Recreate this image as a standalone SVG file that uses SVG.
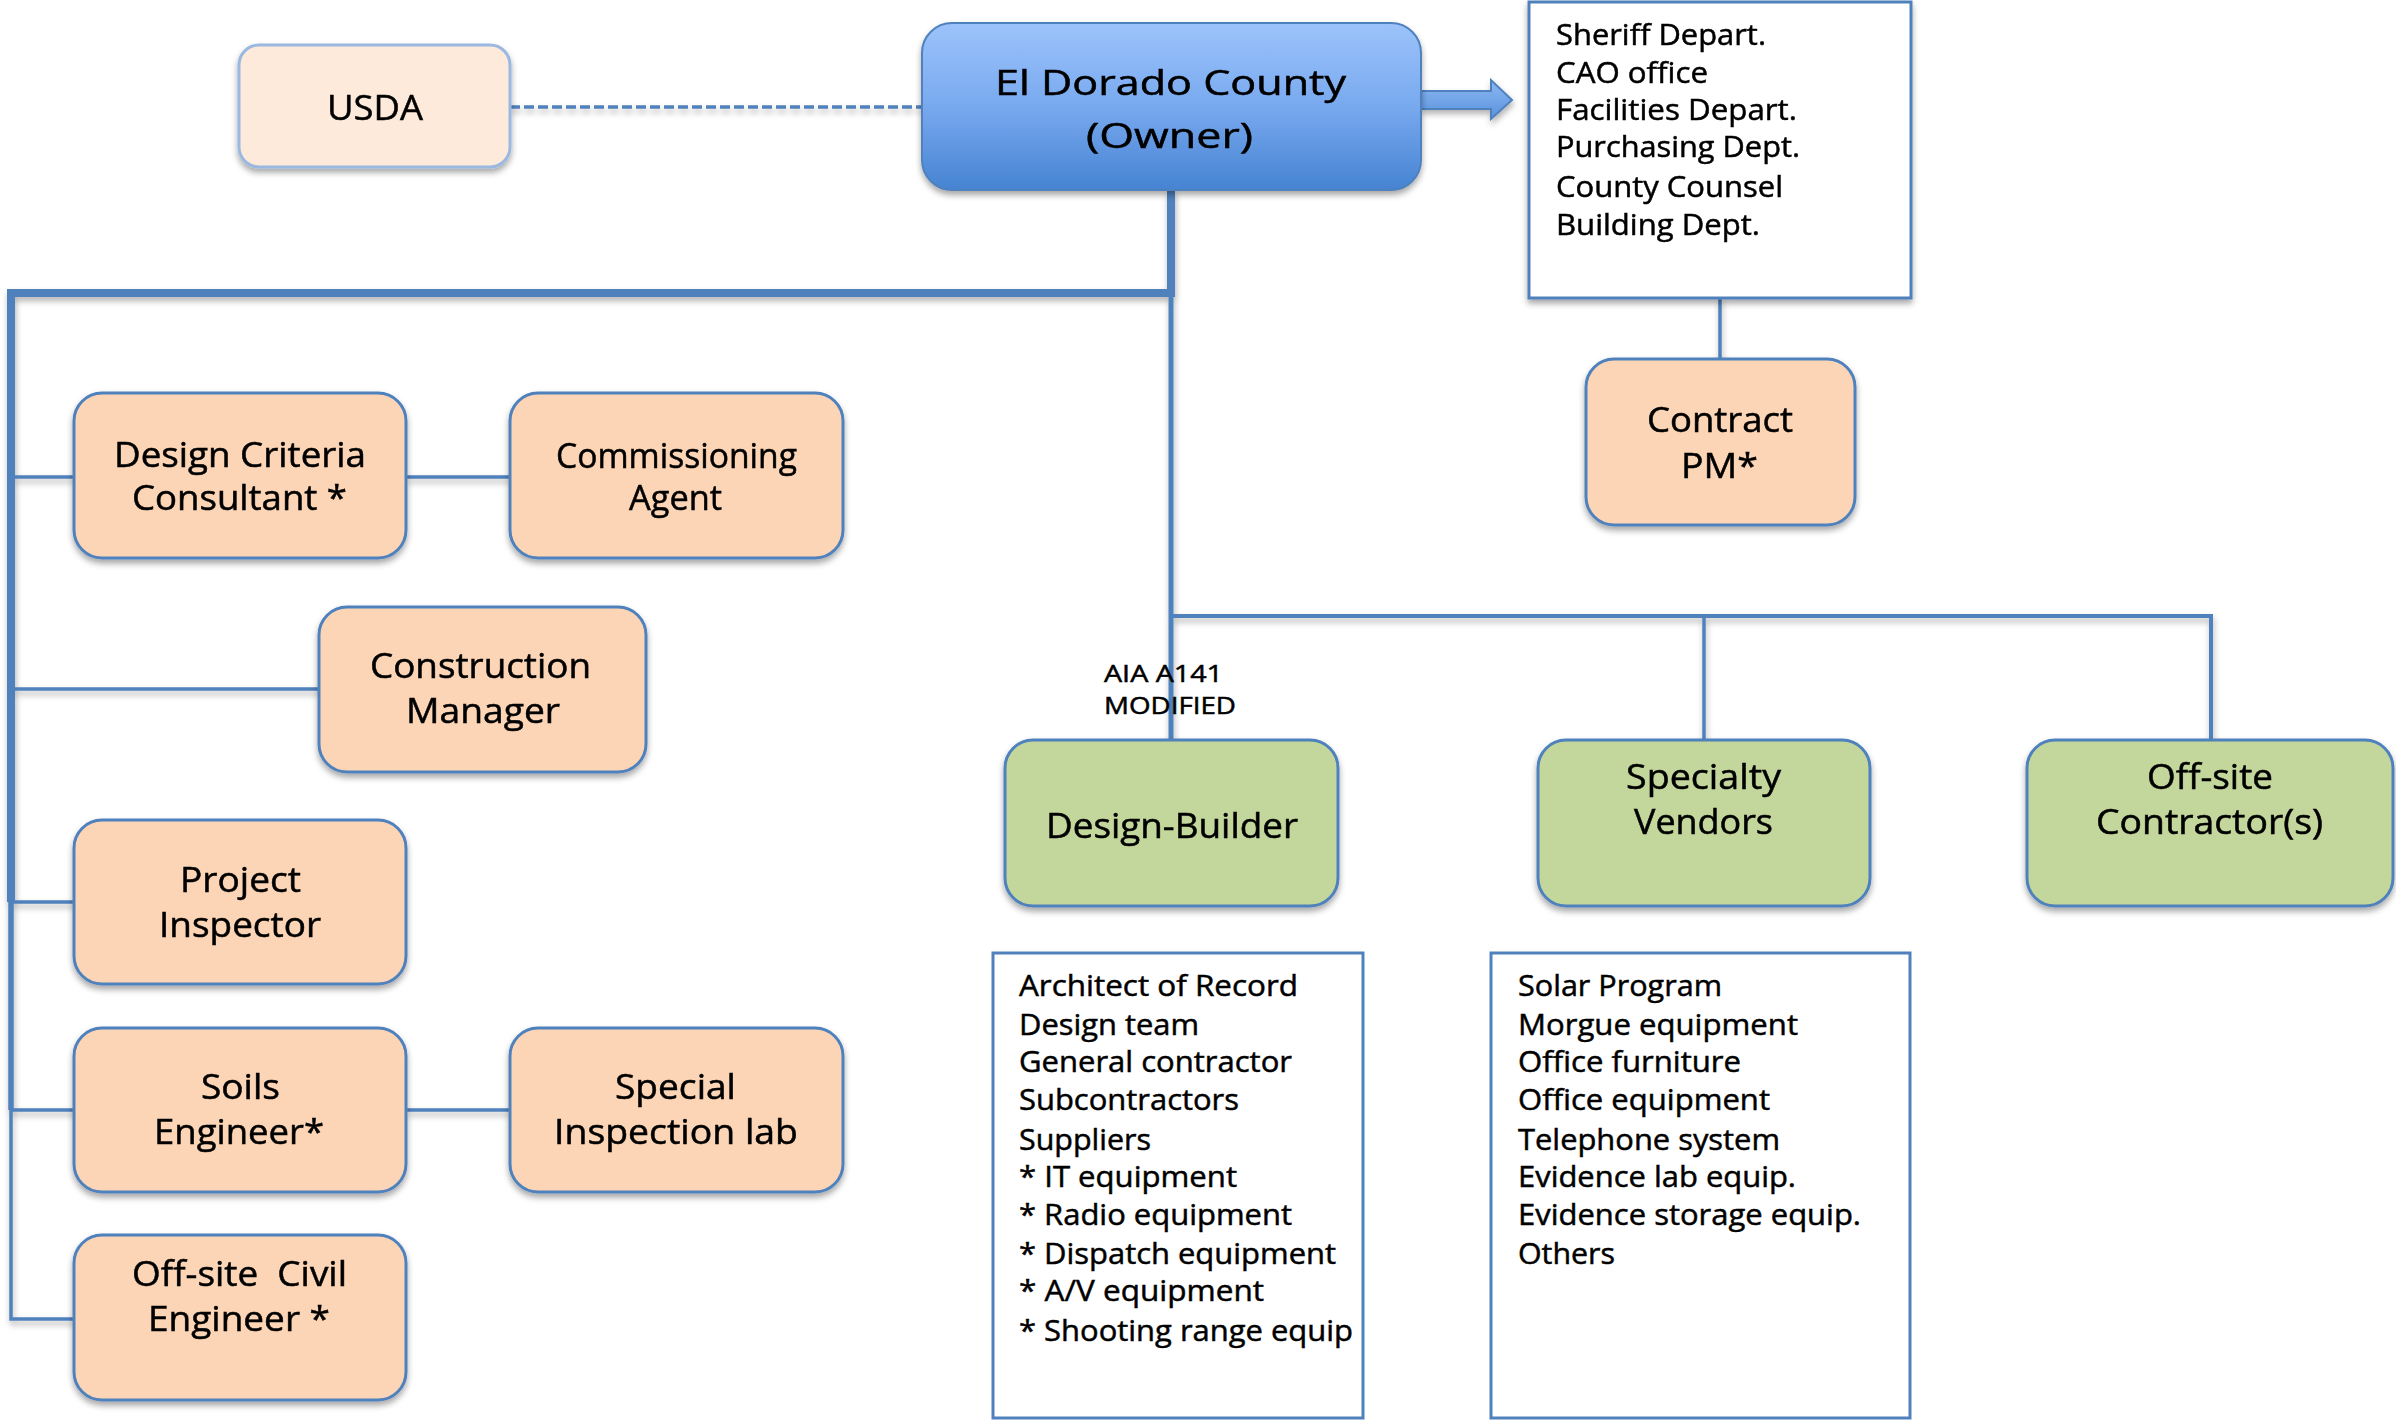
<svg xmlns="http://www.w3.org/2000/svg" width="2396" height="1420" viewBox="0 0 2396 1420">
<defs>
  <linearGradient id="gBlue" x1="0" y1="0" x2="0" y2="1">
    <stop offset="0" stop-color="#9cc3fa"/>
    <stop offset="0.5" stop-color="#78a9ef"/>
    <stop offset="1" stop-color="#4683d2"/>
  </linearGradient>
  <linearGradient id="gArrow" x1="0" y1="0" x2="0" y2="1">
    <stop offset="0" stop-color="#8cb8f4"/>
    <stop offset="1" stop-color="#5a92dc"/>
  </linearGradient>
  <filter id="sh" x="-10%" y="-10%" width="120%" height="130%">
    <feDropShadow dx="0" dy="4" stdDeviation="3" flood-color="#000" flood-opacity="0.35"/>
  </filter>
  <filter id="lsh" x="-5%" y="-5%" width="110%" height="110%">
    <feDropShadow dx="1" dy="4" stdDeviation="3" flood-color="#000" flood-opacity="0.3"/>
  </filter>
</defs>
<style>
  .t { font-family: "Open Sans", "Liberation Sans", sans-serif; fill: #000; stroke: #000; stroke-width: 0.5px; }
  .node { font-size: 34px; text-anchor: middle; }
  .list { font-size: 30px; }
  .orange { fill: #fbd5b5; stroke: #4f81bd; stroke-width: 3; }
  .green { fill: #c3d69b; stroke: #4f81bd; stroke-width: 3; }
  .listbox { fill: #ffffff; stroke: #4f81bd; stroke-width: 3; }
  .ln { fill: none; stroke: #4f81bd; stroke-linecap: butt; stroke-linejoin: miter; }
</style>
<rect width="2396" height="1420" fill="#ffffff"/>

<g id="connectors" filter="url(#lsh)">
  <line class="ln" x1="510" y1="107" x2="922" y2="107" stroke-width="3.5" stroke-dasharray="10 4" stroke="#5f8bc6"/>
  <path class="ln" d="M1171 190 V293 H11 V902" stroke-width="8"/>
  <path class="ln" d="M11 900 V1110" stroke-width="5.5"/>
  <path class="ln" d="M11 1108 V1319 H74" stroke-width="3.5"/>
  <line class="ln" x1="11" y1="477" x2="74" y2="477" stroke-width="3.5"/>
  <line class="ln" x1="406" y1="477" x2="510" y2="477" stroke-width="3.5"/>
  <line class="ln" x1="11" y1="689" x2="319" y2="689" stroke-width="3.5"/>
  <line class="ln" x1="11" y1="902" x2="74" y2="902" stroke-width="3.5"/>
  <line class="ln" x1="11" y1="1110" x2="74" y2="1110" stroke-width="3.5"/>
  <line class="ln" x1="406" y1="1110" x2="510" y2="1110" stroke-width="3.5"/>
  <path class="ln" d="M1171 293 V740" stroke-width="5"/>
  <path class="ln" d="M1171 616 H2211 V740" stroke-width="4"/>
  <line class="ln" x1="1704" y1="616" x2="1704" y2="740" stroke-width="3.5"/>
  <line class="ln" x1="1720" y1="298" x2="1720" y2="359" stroke-width="3.5"/>
  <path d="M1421 91 H1491 V80 L1512 100 L1491 119 V109 H1421 Z" fill="url(#gArrow)" stroke="#4f81bd" stroke-width="2"/>
</g>

<g id="usda" filter="url(#sh)">
  <rect x="239" y="45" width="271" height="122" rx="20" fill="#fdeadb" stroke="#9ab8e0" stroke-width="3"/>
  <text class="t node" x="375" y="120" font-size="35" textLength="96" lengthAdjust="spacingAndGlyphs">USDA</text>
</g>

<g id="owner" filter="url(#sh)">
  <rect x="922" y="23" width="499" height="167" rx="30" fill="url(#gBlue)" stroke="#4f81bd" stroke-width="2"/>
  <text class="t node" x="1170.5" y="95" font-size="39" textLength="351" lengthAdjust="spacingAndGlyphs">El Dorado County</text>
  <text class="t node" x="1169.5" y="148" font-size="39" textLength="167" lengthAdjust="spacingAndGlyphs">(Owner)</text>
</g>

<g id="county-depts" filter="url(#sh)">
  <rect class="listbox" x="1529" y="2" width="382" height="296"/>
  <text class="t list" font-size="29" x="1556" y="45" textLength="210" lengthAdjust="spacingAndGlyphs">Sheriff Depart.</text>
  <text class="t list" font-size="29" x="1556" y="83" textLength="152" lengthAdjust="spacingAndGlyphs">CAO office</text>
  <text class="t list" font-size="29" x="1556" y="120" textLength="241" lengthAdjust="spacingAndGlyphs">Facilities Depart.</text>
  <text class="t list" font-size="29" x="1556" y="157" textLength="244" lengthAdjust="spacingAndGlyphs">Purchasing Dept.</text>
  <text class="t list" font-size="29" x="1556" y="197" textLength="227" lengthAdjust="spacingAndGlyphs">County Counsel</text>
  <text class="t list" font-size="29" x="1556" y="235" textLength="204" lengthAdjust="spacingAndGlyphs">Building Dept.</text>
</g>

<g id="contract-pm" filter="url(#sh)">
  <rect class="orange" x="1586" y="359" width="269" height="166" rx="28"/>
  <text class="t node" x="1720" y="432" textLength="146" lengthAdjust="spacingAndGlyphs">Contract</text>
  <text class="t node" x="1719.5" y="478" textLength="77" lengthAdjust="spacingAndGlyphs">PM*</text>
</g>

<g id="design-criteria" filter="url(#sh)">
  <rect class="orange" x="74" y="393" width="332" height="165" rx="28"/>
  <text class="t node" x="240" y="467" textLength="252" lengthAdjust="spacingAndGlyphs">Design Criteria</text>
  <text class="t node" x="239.5" y="510" textLength="215" lengthAdjust="spacingAndGlyphs">Consultant *</text>
</g>

<g id="commissioning" filter="url(#sh)">
  <rect class="orange" x="510" y="393" width="333" height="165" rx="28"/>
  <text class="t node" x="676.5" y="468" textLength="241" lengthAdjust="spacingAndGlyphs">Commissioning</text>
  <text class="t node" x="675.5" y="510" textLength="93" lengthAdjust="spacingAndGlyphs">Agent</text>
</g>

<g id="construction-manager" filter="url(#sh)">
  <rect class="orange" x="319" y="607" width="327" height="165" rx="28"/>
  <text class="t node" x="480.5" y="678" textLength="221" lengthAdjust="spacingAndGlyphs">Construction</text>
  <text class="t node" x="483" y="723" textLength="154" lengthAdjust="spacingAndGlyphs">Manager</text>
</g>

<g id="project-inspector" filter="url(#sh)">
  <rect class="orange" x="74" y="820" width="332" height="164" rx="28"/>
  <text class="t node" x="240.5" y="892" textLength="121" lengthAdjust="spacingAndGlyphs">Project</text>
  <text class="t node" x="240" y="937" textLength="162" lengthAdjust="spacingAndGlyphs">Inspector</text>
</g>

<g id="soils-engineer" filter="url(#sh)">
  <rect class="orange" x="74" y="1028" width="332" height="164" rx="28"/>
  <text class="t node" x="240.5" y="1099" textLength="79" lengthAdjust="spacingAndGlyphs">Soils</text>
  <text class="t node" x="239" y="1144" textLength="170" lengthAdjust="spacingAndGlyphs">Engineer*</text>
</g>

<g id="special-inspection" filter="url(#sh)">
  <rect class="orange" x="510" y="1028" width="333" height="164" rx="28"/>
  <text class="t node" x="675.5" y="1099" textLength="121" lengthAdjust="spacingAndGlyphs">Special</text>
  <text class="t node" x="676" y="1144" textLength="244" lengthAdjust="spacingAndGlyphs">Inspection lab</text>
</g>

<g id="offsite-civil" filter="url(#sh)">
  <rect class="orange" x="74" y="1235" width="332" height="165" rx="28"/>
  <text class="t node" x="239.5" y="1286" textLength="215" lengthAdjust="spacingAndGlyphs" xml:space="preserve">Off-site  Civil</text>
  <text class="t node" x="239" y="1331" textLength="182" lengthAdjust="spacingAndGlyphs">Engineer *</text>
</g>

<g id="aia-label">
  <text class="t" font-size="24" x="1104" y="682" textLength="119" lengthAdjust="spacingAndGlyphs">AIA A141</text>
  <text class="t" font-size="24" x="1104" y="714" textLength="132" lengthAdjust="spacingAndGlyphs">MODIFIED</text>
</g>

<g id="design-builder" filter="url(#sh)">
  <rect class="green" x="1005" y="740" width="333" height="166" rx="28"/>
  <text class="t node" x="1172" y="838" textLength="252" lengthAdjust="spacingAndGlyphs">Design-Builder</text>
</g>

<g id="specialty-vendors" filter="url(#sh)">
  <rect class="green" x="1538" y="740" width="332" height="166" rx="28"/>
  <text class="t node" x="1703.5" y="789" textLength="155" lengthAdjust="spacingAndGlyphs">Specialty</text>
  <text class="t node" x="1703.5" y="834" textLength="139" lengthAdjust="spacingAndGlyphs">Vendors</text>
</g>

<g id="offsite-contractors" filter="url(#sh)">
  <rect class="green" x="2027" y="740" width="366" height="166" rx="28"/>
  <text class="t node" x="2210" y="789" textLength="126" lengthAdjust="spacingAndGlyphs">Off-site</text>
  <text class="t node" x="2209.5" y="834" textLength="227" lengthAdjust="spacingAndGlyphs">Contractor(s)</text>
</g>

<g id="design-builder-list">
  <rect class="listbox" x="993" y="953" width="370" height="465"/>
  <text class="t list" x="1019" y="996" textLength="279" lengthAdjust="spacingAndGlyphs">Architect of Record</text>
  <text class="t list" x="1019" y="1035" textLength="180" lengthAdjust="spacingAndGlyphs">Design team</text>
  <text class="t list" x="1019" y="1072" textLength="273" lengthAdjust="spacingAndGlyphs">General contractor</text>
  <text class="t list" x="1019" y="1110" textLength="220" lengthAdjust="spacingAndGlyphs">Subcontractors</text>
  <text class="t list" x="1019" y="1150" textLength="132" lengthAdjust="spacingAndGlyphs">Suppliers</text>
  <text class="t list" x="1019" y="1187" textLength="218" lengthAdjust="spacingAndGlyphs">* IT equipment</text>
  <text class="t list" x="1019" y="1225" textLength="273" lengthAdjust="spacingAndGlyphs">* Radio equipment</text>
  <text class="t list" x="1019" y="1264" textLength="317" lengthAdjust="spacingAndGlyphs">* Dispatch equipment</text>
  <text class="t list" x="1019" y="1301" textLength="245" lengthAdjust="spacingAndGlyphs">* A/V equipment</text>
  <text class="t list" x="1019" y="1341" textLength="334" lengthAdjust="spacingAndGlyphs">* Shooting range equip</text>
</g>

<g id="vendor-list">
  <rect class="listbox" x="1491" y="953" width="419" height="465"/>
  <text class="t list" x="1518" y="996" textLength="204" lengthAdjust="spacingAndGlyphs">Solar Program</text>
  <text class="t list" x="1518" y="1035" textLength="280" lengthAdjust="spacingAndGlyphs">Morgue equipment</text>
  <text class="t list" x="1518" y="1072" textLength="223" lengthAdjust="spacingAndGlyphs">Office furniture</text>
  <text class="t list" x="1518" y="1110" textLength="252" lengthAdjust="spacingAndGlyphs">Office equipment</text>
  <text class="t list" x="1518" y="1150" textLength="262" lengthAdjust="spacingAndGlyphs">Telephone system</text>
  <text class="t list" x="1518" y="1187" textLength="278" lengthAdjust="spacingAndGlyphs">Evidence lab equip.</text>
  <text class="t list" x="1518" y="1225" textLength="343" lengthAdjust="spacingAndGlyphs">Evidence storage equip.</text>
  <text class="t list" x="1518" y="1264" textLength="97" lengthAdjust="spacingAndGlyphs">Others</text>
</g>
</svg>
